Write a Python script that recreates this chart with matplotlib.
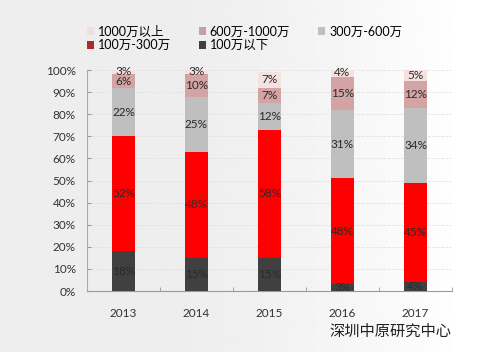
import numpy as np
import matplotlib.pyplot as plt
from matplotlib.patches import Patch

plt.rcParams['font.family'] = ['Lato', 'Noto Sans CJK SC', 'DejaVu Sans']

years = ['2013', '2014', '2015', '2016', '2017']
series_names = ['100万以下', '100万-300万', '300万-600万', '600万-1000万', '1000万以上']
below_100 = [18, 15, 15, 3, 4]
r100_300 = [52, 48, 58, 48, 45]
r300_600 = [22, 25, 12, 31, 34]
r600_1000 = [6, 10, 7, 15, 12]
above_1000 = [3, 3, 7, 4, 5]
colors = ['#404040', '#ff0000', '#bfbfbf', '#d4a3a3', '#f6e1e1']
legend_colors = ['#404040', '#b0282e', '#bfbfbf', '#c9a0a0', '#f3dede']

def main():
    fig = plt.figure(figsize=(4.87, 3.52), dpi=100)

    # light gray background fading to white on the right
    bg = fig.add_axes([0, 0, 1, 1], zorder=-10)
    t = np.linspace(0, 1, 256)
    grad = 0.93 + 0.07 * np.clip((t - 0.3) / 0.65, 0, 1) ** 1.5
    bg.imshow(np.tile(grad, (10, 1)), cmap='gray', vmin=0, vmax=1, aspect='auto',
              extent=[0, 1, 0, 1])
    bg.axis('off')

    ax = fig.add_axes([0.1786, 0.173, 0.7494, 0.628])
    ax.set_facecolor('none')

    data = [below_100, r100_300, r300_600, r600_1000, above_1000]
    x = np.arange(len(years))
    bottom = np.zeros(len(years))
    for vals, col in zip(data, colors):
        vals = np.array(vals, dtype=float)
        ax.bar(x, vals, 0.31, bottom=bottom, color=col, zorder=3)
        for xi, b, v in zip(x, bottom, vals):
            ax.text(xi, b + v / 2, '%d%%' % v, ha='center', va='center',
                    fontsize=8.5, color='#2a2a2a', zorder=4)
        bottom += vals

    ax.set_xlim(-0.5, len(years) - 0.5)
    ax.set_ylim(0, 100)
    ax.set_yticks(range(0, 101, 10))
    ax.set_yticklabels(['%d%%' % v for v in range(0, 101, 10)], fontsize=8.5, color='#333333')
    ax.set_xticks(x)
    ax.set_xticklabels(years, fontsize=8.5, color='#333333')
    ax.set_xticks(np.arange(-0.5, len(years), 1), minor=True)
    ax.tick_params(axis='x', which='major', length=0, pad=12)
    ax.tick_params(axis='x', which='minor', length=3, color='#999999', direction='in')
    ax.tick_params(axis='y', length=3, color='#999999', direction='in', pad=8)
    ax.grid(axis='y', color='#e2e2e2', linestyle='--', linewidth=0.6, zorder=0)
    for s in ['top', 'right']:
        ax.spines[s].set_visible(False)
    ax.spines['left'].set_color('#aaaaaa')
    ax.spines['bottom'].set_color('#999999')

    # matplotlib fills legend columns first, so order for row-wise reading
    order = [4, 1, 3, 0, 2]
    handles = [Patch(facecolor=legend_colors[i], label=series_names[i]) for i in order]
    fig.legend(handles=handles, ncol=3, loc='upper left', bbox_to_anchor=(0.155, 0.96),
               frameon=False, fontsize=9, handlelength=0.6, handleheight=0.6,
               handletextpad=0.3, columnspacing=2.2, labelspacing=0.15)

    fig.text(0.928, 0.06, '深圳中原研究中心', ha='right', va='center', fontsize=11,
             color='#222222', family=['Noto Sans CJK SC'])

    fig.savefig('out.png', dpi=100)

if __name__ == '__main__':
    main()
